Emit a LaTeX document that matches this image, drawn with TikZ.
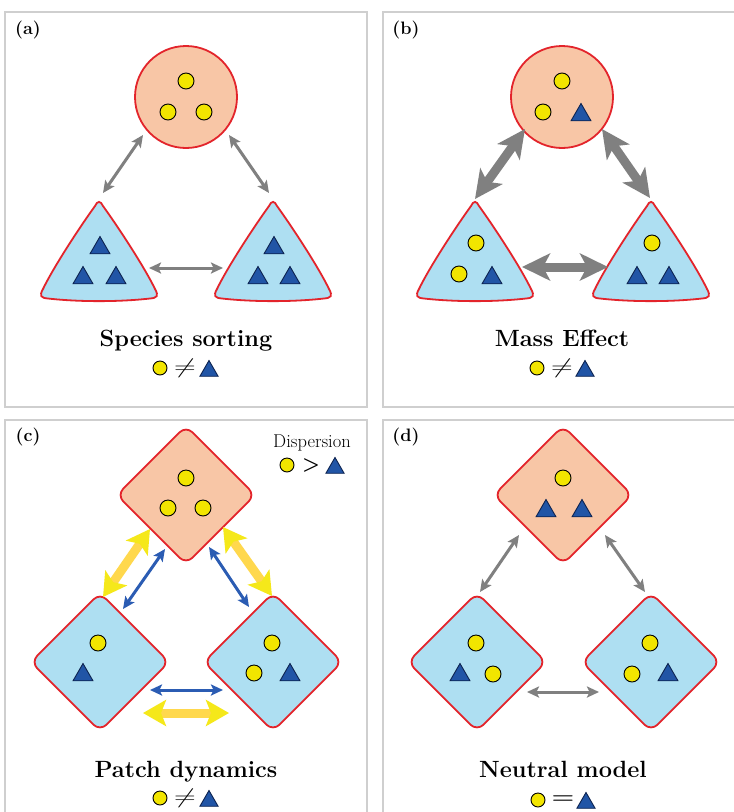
\documentclass[tikz,border=0pt]{standalone}
\usetikzlibrary{shapes.geometric,arrows.meta}
\definecolor{framegray}{HTML}{CFCFCF}
\definecolor{peach}{HTML}{F8C6A6}
\definecolor{skyblue}{HTML}{AEDFF2}
\definecolor{patchred}{HTML}{E3242B}
\definecolor{markyellow}{HTML}{F2E500}
\definecolor{markblue}{HTML}{2155A6}
\definecolor{markedge}{HTML}{0D2350}
\definecolor{arrowgray}{HTML}{808080}
\definecolor{arrowblue}{HTML}{2B5CB3}
\definecolor{yshaft}{HTML}{FFD84D}
\definecolor{yhead}{HTML}{F5E81A}
\tikzset{frame box/.style={draw=framegray,line width=2.5pt},
  circ patch/.style={circle,draw=patchred,line width=1.8pt,fill=peach,minimum size=102pt,inner sep=0pt},
  dia patch/.style={diamond,aspect=1,draw=patchred,line width=1.8pt,rounded corners=9pt,minimum size=139pt,inner sep=0pt},
  tri patch/.style={draw=patchred,line width=1.8pt,fill=skyblue},
  yel/.style={circle,draw=black,line width=0.9pt,fill=markyellow,minimum size=16pt,inner sep=0pt},
  tri/.style={regular polygon,regular polygon sides=3,draw=markedge,line width=0.9pt,fill=markblue,minimum size=23pt,inner sep=0pt},
  key yel/.style={yel,minimum size=14pt},
  key tri/.style={tri,minimum size=21pt},
  panel label/.style={font=\fontsize{18}{21}\selectfont\bfseries},
  title/.style={anchor=base,font=\fontsize{23.5}{28}\selectfont\bfseries},
  sym/.style={font=\fontsize{20}{24}\selectfont,inner sep=0pt},
  thin arrow/.style={draw=arrowgray,line width=3pt,>={Stealth[length=12pt,width=11pt,inset=2.5pt]},<->},
  thick arrow/.style={draw=arrowgray,line width=9pt,>={Stealth[length=28pt,width=27pt,inset=7pt]},<->},
  blue arrow/.style={draw=arrowblue,line width=3pt,>={Stealth[length=12pt,width=11pt,inset=2.5pt]},<->},
  yellow arrow/.style={draw=yshaft,line width=9pt,
    arrows={Stealth[length=23pt,width=26pt,inset=5pt,color=yhead]-Stealth[length=23pt,width=26pt,inset=5pt,color=yhead]}},
}
\newcommand{\tripatch}[2]{%
  \draw[tri patch,shift={(#1,#2)}] (-4,6) .. controls (-1.5,0.5) and (1.5,0.5) .. (4,6)
    .. controls (22,31) and (47,70) .. (56,89)
    .. controls (60,96) and (58,98) .. (51,98.5)
    .. controls (20,102) and (-20,102) .. (-51,98.5)
    .. controls (-58,98) and (-60,96) .. (-56,89)
    .. controls (-47,70) and (-22,31) .. (-4,6) -- cycle;}
\newcommand{\wideneq}{\scalebox{1.45}[1]{$\neq$}}

\begin{document}
\begin{tikzpicture}[x=1pt,y=-1pt]
	\useasboundingbox (0,0) rectangle (734,812);
	\fill[white] (0,0) rectangle (734,812);
	% frames
	\draw[frame box] (5,12) rectangle (367,407);
	\draw[frame box] (383,12) rectangle (745,407);
	\draw[frame box] (5,420) rectangle (367,830);
	\draw[frame box] (383,420) rectangle (745,830);
	\node[panel label] (la) at (28,30) {(a)};
	\node[panel label] (lb) at (406,30) {(b)};
	\node[panel label] (lc) at (28,437) {(c)};
	\node[panel label] (ld) at (406,437) {(d)};

	% (a) species sorting
	\node[circ patch] (PA) at (186,97) {};
	\tripatch{99}{200}
	\tripatch{273}{200}
	\node[yel] (a1) at (186,81) {};
	\node[yel] (a2) at (168,112) {};
	\node[yel] (a3) at (204,112) {};
	\node[tri] (a4) at (100,248) {};
	\node[tri] (a5) at (83,278) {};
	\node[tri] (a6) at (116,278) {};
	\node[tri] (a7) at (274,248) {};
	\node[tri] (a8) at (258,278) {};
	\node[tri] (a9) at (290,278) {};
	\coordinate (aL1) at (143,135); \coordinate (aL2) at (103,193);
	\coordinate (aR1) at (229,135); \coordinate (aR2) at (269,193);
	\coordinate (aB1) at (149,268); \coordinate (aB2) at (223,268);
	\draw[thin arrow] (aL1) -- (aL2);
	\draw[thin arrow] (aR1) -- (aR2);
	\draw[thin arrow] (aB1) -- (aB2);
	\node[title] (ta) at (186,346) {Species sorting};
	\node[key yel] (ka1) at (160,368) {};
	\node[sym] (ka2) at (185,368) {\wideneq};
	\node[key tri] (ka3) at (209,371) {};

	% (b) mass effect
	\node[circ patch] (PB) at (562,97) {};
	\tripatch{475}{200}
	\tripatch{651}{200}
	\node[yel] (b1) at (562,81) {};
	\node[yel] (b2) at (543,112) {};
	\node[tri] (b3) at (581,115) {};
	\node[yel] (b4) at (476,243) {};
	\node[yel] (b5) at (459,274) {};
	\node[tri] (b6) at (492,278) {};
	\node[yel] (b7) at (652,243) {};
	\node[tri] (b8) at (637,278) {};
	\node[tri] (b9) at (669,278) {};
	\coordinate (bL1) at (525,129); \coordinate (bL2) at (475,199);
	\coordinate (bR1) at (602,129); \coordinate (bR2) at (650,198);
	\coordinate (bB1) at (522,267); \coordinate (bB2) at (608,267);
	\draw[thick arrow] (bL1) -- (bL2);
	\draw[thick arrow] (bR1) -- (bR2);
	\draw[thick arrow] (bB1) -- (bB2);
	\node[title] (tb) at (562,346) {Mass Effect};
	\node[key yel] (kb1) at (537,368) {};
	\node[sym] (kb2) at (562,368) {\wideneq};
	\node[key tri] (kb3) at (585,371) {};

	% (c) patch dynamics
	\node[dia patch,fill=peach] (PC) at (186,495) {};
	\node[dia patch,fill=skyblue] (PC2) at (100,662) {};
	\node[dia patch,fill=skyblue] (PC3) at (273,662) {};
	\node[yel] (c1) at (186,478) {};
	\node[yel] (c2) at (168,508) {};
	\node[yel] (c3) at (203,508) {};
	\node[yel] (c4) at (98,643) {};
	\node[tri] (c5) at (83,675) {};
	\node[yel] (c6) at (272,643) {};
	\node[yel] (c7) at (254,673) {};
	\node[tri] (c8) at (290,675) {};
	\coordinate (cY1) at (150,529); \coordinate (cY2) at (103,597);
	\coordinate (cB1) at (165,549); \coordinate (cB2) at (123,609);
	\coordinate (cY3) at (223,527); \coordinate (cY4) at (272,596);
	\coordinate (cB3) at (209,547); \coordinate (cB4) at (249,607);
	\coordinate (cB5) at (150,690); \coordinate (cB6) at (223,690);
	\coordinate (cY5) at (143,713); \coordinate (cY6) at (229,713);
	\draw[yellow arrow] (cY1) -- (cY2);
	\draw[blue arrow] (cB1) -- (cB2);
	\draw[yellow arrow] (cY3) -- (cY4);
	\draw[blue arrow] (cB3) -- (cB4);
	\draw[blue arrow] (cB5) -- (cB6);
	\draw[yellow arrow] (cY5) -- (cY6);
	\node[anchor=base,font=\fontsize{18.5}{22}\selectfont] (disp) at (312,447) {Dispersion};
	\node[key yel] (kd1) at (287,465) {};
	\node[sym] (kd2) at (311,465) {\textbf{>}};
	\node[key tri] (kd3) at (335,468) {};
	\node[title] (tc) at (186,777) {Patch dynamics};
	\node[key yel] (kc1) at (160,798) {};
	\node[sym] (kc2) at (185,798) {\wideneq};
	\node[key tri] (kc3) at (209,801) {};

	% (d) neutral model
	\node[dia patch,fill=peach] (PD) at (563,495) {};
	\node[dia patch,fill=skyblue] (PD2) at (477,662) {};
	\node[dia patch,fill=skyblue] (PD3) at (651,662) {};
	\node[yel] (d1) at (563,478) {};
	\node[tri] (d2) at (546,511) {};
	\node[tri] (d3) at (582,511) {};
	\node[yel] (d4) at (476,643) {};
	\node[tri] (d5) at (460,675) {};
	\node[yel] (d6) at (493,674) {};
	\node[yel] (d7) at (650,643) {};
	\node[yel] (d8) at (632,674) {};
	\node[tri] (d9) at (668,675) {};
	\coordinate (dL1) at (519,535); \coordinate (dL2) at (480,592);
	\coordinate (dR1) at (605,535); \coordinate (dR2) at (645,592);
	\coordinate (dB1) at (527,692); \coordinate (dB2) at (599,692);
	\draw[thin arrow] (dL1) -- (dL2);
	\draw[thin arrow] (dR1) -- (dR2);
	\draw[thin arrow] (dB1) -- (dB2);
	\node[title] (td) at (563,777) {Neutral model};
	\node[key yel] (kn1) at (538,800) {};
	\node[sym] (kn2) at (563,800) {\scalebox{1.3}[1]{\textbf{=}}};
	\node[key tri] (kn3) at (586,803) {};
\end{tikzpicture}
\end{document}
